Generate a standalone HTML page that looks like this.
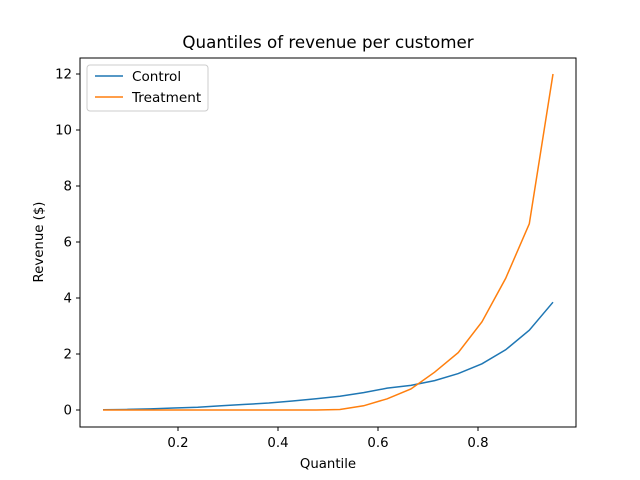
<!DOCTYPE html>
<html><head><meta charset="utf-8"><style>
body{margin:0;background:#fff}
svg{display:block;font-family:"DejaVu Sans","Liberation Sans",sans-serif}
</style></head><body>
<svg id="chart" width="640" height="480">
<rect width="640" height="480" fill="#fff"/>
<text x="328" y="48" text-anchor="middle" font-size="16.7">Quantiles of revenue per customer</text>
<g id="axes"></g>
<g id="series"></g>
<rect x="80" y="58" width="496" height="369" fill="none" stroke="#000" stroke-width="1"/>
<text x="328" y="468" text-anchor="middle" font-size="13.3">Quantile</text>
<text transform="translate(43,242) rotate(-90)" text-anchor="middle" font-size="13.3">Revenue ($)</text>
<g>
<rect x="87" y="65" width="121" height="46" rx="3" fill="#fff" stroke="#ccc"/>
<line x1="95" y1="76" x2="123" y2="76" stroke="#1f77b4" stroke-width="1.5"/>
<text x="132" y="81" font-size="13.6">Control</text>
<line x1="95" y1="97" x2="123" y2="97" stroke="#ff7f0e" stroke-width="1.5"/>
<text x="132" y="102" font-size="13.6">Treatment</text>
</g>
</svg>
<script>
const quantiles = [0.05,0.0974,0.1447,0.1921,0.2395,0.2868,0.3342,0.3816,0.4289,0.4763,0.5237,0.5711,0.6184,0.6658,0.7132,0.7605,0.8079,0.8553,0.9026,0.95];
const controlValues = [0.01,0.02,0.04,0.07,0.1,0.15,0.2,0.25,0.32,0.4,0.49,0.62,0.78,0.88,1.05,1.3,1.65,2.15,2.85,3.85];
const treatmentValues = [0,0,0,0,0,0,0,0,0,0,0.02,0.15,0.4,0.75,1.35,2.05,3.15,4.7,6.65,12.0];
const xTicks = [0.2,0.4,0.6,0.8];
const yTicks = [0,2,4,6,8,10,12];
const ns="http://www.w3.org/2000/svg";
function xs(v){return 178+(v-0.2)*500;}
function ys(v){return 410-v*28;}
const axes=document.getElementById('axes');
xTicks.forEach(t=>{
  const l=document.createElementNS(ns,'line');
  l.setAttribute('x1',xs(t));l.setAttribute('x2',xs(t));l.setAttribute('y1',427);l.setAttribute('y2',431);l.setAttribute('stroke','#000');
  
  
  axes.appendChild(l);
  const tx=document.createElementNS(ns,'text');
  tx.setAttribute('x',xs(t));tx.setAttribute('y',447);tx.setAttribute('text-anchor','middle');tx.setAttribute('font-size','13.3');
  tx.textContent=t.toFixed(1);
  
  
  axes.appendChild(tx);
});
yTicks.forEach(t=>{
  const l=document.createElementNS(ns,'line');
  l.setAttribute('x1',76);l.setAttribute('x2',80);l.setAttribute('y1',ys(t));l.setAttribute('y2',ys(t));l.setAttribute('stroke','#000');
  
  
  axes.appendChild(l);
  const tx=document.createElementNS(ns,'text');
  tx.setAttribute('x',72);tx.setAttribute('y',ys(t)+4.5);tx.setAttribute('text-anchor','end');tx.setAttribute('font-size','13.3');
  tx.textContent=t;
  
  
  axes.appendChild(tx);
});
const series=document.getElementById('series');
[[controlValues,'#1f77b4','control-line'],[treatmentValues,'#ff7f0e','treatment-line']].forEach(([vals,c,name])=>{
  const p=document.createElementNS(ns,'polyline');
  p.setAttribute('points',vals.map((v,i)=>xs(quantiles[i])+','+ys(v)).join(' '));
  p.setAttribute('fill','none');p.setAttribute('stroke',c);p.setAttribute('stroke-width','1.5');
  
  
  series.appendChild(p);
});
</script>
</body></html>
